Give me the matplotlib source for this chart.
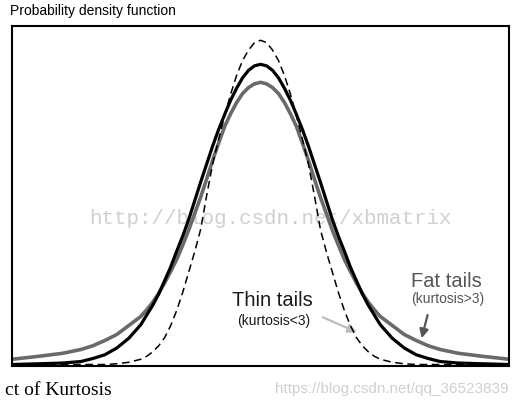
import numpy as np
import matplotlib
matplotlib.use("Agg")
import matplotlib.pyplot as plt

# half profiles (right side, curves are symmetric)
x_half = [0, 0.1, 0.2, 0.3, 0.4, 0.5, 0.6, 0.7, 0.8, 0.9, 1.0, 1.1, 1.2, 1.3, 1.4,
          1.5, 1.6, 1.7, 1.8, 1.9, 2.0, 2.2, 2.4, 2.6, 2.8, 3.0, 3.3, 3.7, 4.15]
normal_half = [0.400, 0.398, 0.392, 0.382, 0.368, 0.352, 0.333, 0.313, 0.291, 0.267,
               0.243, 0.218, 0.193, 0.171, 0.151, 0.130, 0.112, 0.094, 0.079, 0.066,
               0.053, 0.035, 0.022, 0.013, 0.008, 0.004, 0.002, 0.001, 0.000]
thin_half = [0.432, 0.429, 0.419, 0.405, 0.385, 0.360, 0.331, 0.300, 0.267, 0.225,
             0.180, 0.150, 0.123, 0.096, 0.072, 0.052, 0.036, 0.025, 0.017, 0.011,
             0.007, 0.003, 0.001, 0.000, 0.000, 0.000, 0.000, 0.000, 0.000]
fat_half = [0.376, 0.374, 0.369, 0.361, 0.349, 0.334, 0.317, 0.295, 0.272, 0.247,
            0.223, 0.201, 0.179, 0.159, 0.140, 0.124, 0.109, 0.095, 0.083, 0.073,
            0.064, 0.052, 0.040, 0.032, 0.025, 0.020, 0.015, 0.011, 0.007]


def mirror(xs, ys):
    xs = np.asarray(xs)
    ys = np.asarray(ys)
    return np.concatenate([-xs[:0:-1], xs]), np.concatenate([ys[:0:-1], ys])


plt.rcParams["font.family"] = ["Liberation Sans", "DejaVu Sans"]

fig = plt.figure(figsize=(5.18, 4.08), dpi=100)
ax = fig.add_axes([0.0232, 0.1029, 0.9595, 0.8333])

# watermark behind the curves
ax.text(0.16, 0.195, "http://blog.csdn.net/xbmatrix", family="Liberation Mono",
        fontsize=15, color="#d0d0d0", ha="center", va="center", zorder=0)

xs, ys = mirror(x_half, fat_half)
ax.plot(xs, ys, color="#6a6a6a", lw=2.6, zorder=2, solid_joinstyle="round")
xs, ys = mirror(x_half, normal_half)
ax.plot(xs, ys, color="black", lw=2.3, zorder=3, solid_joinstyle="round")
xs, ys = mirror(x_half, thin_half)
ax.plot(xs, ys, color="black", lw=1.1, linestyle=(0, (5, 3)), zorder=4)

ax.set_xlim(-4.15, 4.15)
ax.set_ylim(-0.002, 0.451)
ax.set_xticks([])
ax.set_yticks([])
for s in ax.spines.values():
    s.set_linewidth(1.5)
    s.set_color("black")

# labels and arrows
ax.text(0.19, 0.085, "Thin tails", fontsize=14.5, color="#1a1a1a", ha="center", va="center")
ax.text(0.225, 0.058, "(kurtosis<3)", fontsize=10, color="#1a1a1a", ha="center", va="center")
ax.text(3.11, 0.110, "Fat tails", fontsize=14.5, color="#555555", ha="center", va="center")
ax.text(3.125, 0.087, "(kurtosis>3)", fontsize=10, color="#555555", ha="center", va="center")
ax.annotate("", xy=(1.61, 0.043), xytext=(1.04, 0.063),
            arrowprops=dict(arrowstyle="-|>", color="#bdbdbd", lw=1.6, mutation_scale=13,
                            shrinkA=0, shrinkB=0))
ax.annotate("", xy=(2.69, 0.035), xytext=(2.79, 0.066),
            arrowprops=dict(arrowstyle="-|>", color="#555555", lw=1.6, mutation_scale=13,
                            shrinkA=0, shrinkB=0))

fig.text(10 / 518, 1 - 11 / 408, "Probability density function", fontsize=10,
         color="black", ha="left", va="center")
fig.text(5 / 518, 1 - 395 / 408, "ct of Kurtosis", family="Liberation Serif",
         fontsize=14, color="black", ha="left", va="baseline")
fig.text(508 / 518, 1 - 389 / 408, "https://blog.csdn.net/qq_36523839", fontsize=11,
         color="#d0d0d0", ha="right", va="center")

fig.savefig("out.png", dpi=100)
